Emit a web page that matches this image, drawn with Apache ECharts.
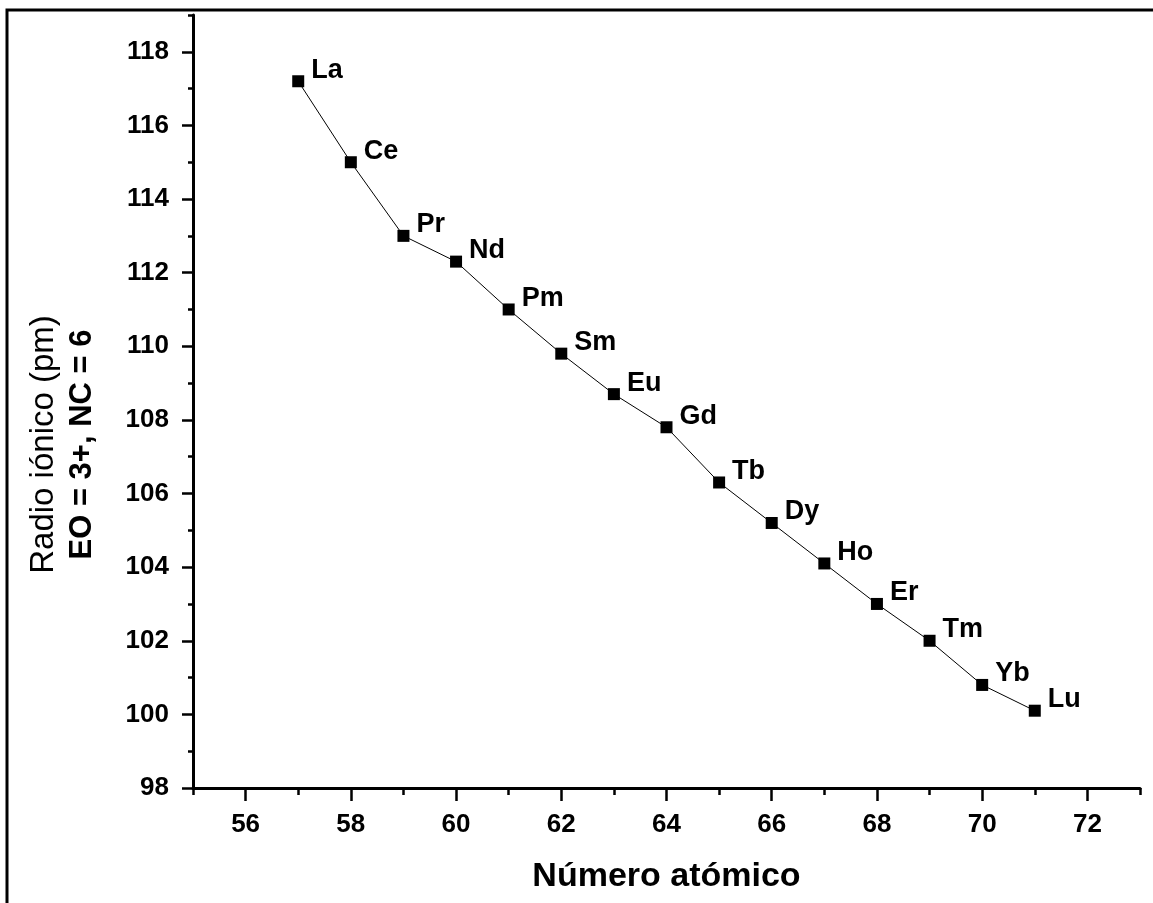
<!DOCTYPE html>
<html>
<head>
<meta charset="utf-8">
<title>Radio iónico de los lantánidos</title>
<script src="https://cdn.jsdelivr.net/npm/echarts@6/dist/echarts.min.js"></script>
<style>
  html, body { margin: 0; padding: 0; background: #fff; }
  #chart { width: 1153px; height: 903px; }
</style>
</head>
<body>
<div id="chart"></div>
<script>
// datos: número atómico, símbolo y radio iónico (pm)
const atomicNumbers = [57, 58, 59, 60, 61, 62, 63, 64, 65, 66, 67, 68, 69, 70, 71]
const elements = ['La', 'Ce', 'Pr', 'Nd', 'Pm', 'Sm', 'Eu', 'Gd', 'Tb', 'Dy', 'Ho', 'Er', 'Tm', 'Yb', 'Lu']
const radii = [117.2, 115.0, 113.0, 112.3, 111.0, 109.8, 108.7, 107.8, 106.3, 105.2, 104.1, 103.0, 102.0, 100.8, 100.1]

// marcas de los ejes
const xMajorTicks = [56, 58, 60, 62, 64, 66, 68, 70, 72]
const xMinorTicks = [55, 57, 59, 61, 63, 65, 67, 69, 71, 73]
const yMajorTicks = [98, 100, 102, 104, 106, 108, 110, 112, 114, 116, 118]
const yMinorTicks = [99, 101, 103, 105, 107, 109, 111, 113, 115, 117, 119]

const font = '"Liberation Sans", Arial, sans-serif'
const myChart = echarts.init(document.getElementById('chart'))

const option = {
  backgroundColor: '#fff',
  animation: false,
  textStyle: { fontFamily: font, color: '#000' },
  grid: { left: 193, right: 13, top: 15, bottom: 115 },
  // marco exterior
  graphic: [{
    type: 'rect',
    shape: { x: 7, y: 10, width: 1160, height: 910 },
    style: { fill: 'none', stroke: '#000', lineWidth: 3 },
    silent: true
  }],
  xAxis: [
    {
      type: 'value',
      position: 'bottom',
      min: 55,
      max: 73,
      name: 'Número atómico',
      nameLocation: 'middle',
      nameGap: 72,
      nameTextStyle: { fontSize: 34, fontWeight: 'bold', fontFamily: font, color: '#000' },
      axisLine: { lineStyle: { color: '#000', width: 3 } },
      axisTick: { customValues: xMajorTicks, length: 13, lineStyle: { color: '#000', width: 2.5 } },
      axisLabel: { customValues: xMajorTicks, margin: 24, fontSize: 26, fontWeight: 'bold', color: '#000', fontFamily: font },
      splitLine: { show: false }
    },
    {
      type: 'value',
      position: 'bottom',
      min: 55,
      max: 73,
      axisLine: { show: false },
      axisTick: { customValues: xMinorTicks, length: 7, lineStyle: { color: '#000', width: 2.5 } },
      axisLabel: { show: false },
      splitLine: { show: false }
    }
  ],
  yAxis: [
    {
      type: 'value',
      position: 'left',
      min: 98,
      max: 119,
      name: '{a|Radio iónico (pm)}\n{b|EO = 3+, NC = 6}',
      nameLocation: 'middle',
      nameRotate: 90,
      nameGap: 92,
      nameTextStyle: {
        padding: [0, 86, 0, 0],
        rich: {
          a: { fontSize: 33, fontFamily: font, color: '#000', lineHeight: 38 },
          b: { fontSize: 31, fontWeight: 'bold', fontFamily: font, color: '#000', lineHeight: 38 }
        }
      },
      axisLine: { lineStyle: { color: '#000', width: 3 } },
      axisTick: { customValues: yMajorTicks, length: 11, lineStyle: { color: '#000', width: 2.5 } },
      axisLabel: { customValues: yMajorTicks, margin: 24, fontSize: 26, fontWeight: 'bold', color: '#000', fontFamily: font },
      splitLine: { show: false }
    },
    {
      type: 'value',
      position: 'left',
      min: 98,
      max: 119,
      axisLine: { show: false },
      axisTick: { customValues: yMinorTicks, length: 5, lineStyle: { color: '#000', width: 2.5 } },
      axisLabel: { show: false },
      splitLine: { show: false }
    }
  ],
  series: [
    {
      type: 'line',
      xAxisIndex: 0,
      yAxisIndex: 0,
      data: atomicNumbers.map((z, i) => ({ value: [z, radii[i]], name: elements[i] })),
      symbol: 'rect',
      symbolSize: 12,
      itemStyle: { color: '#000' },
      lineStyle: { color: '#000', width: 1 },
      label: {
        show: true,
        position: 'right',
        distance: 7,
        offset: [0, -11],
        formatter: '{b}',
        fontSize: 27,
        fontWeight: 'bold',
        fontFamily: font,
        color: '#000'
      }
    }
  ]
}

myChart.setOption(option)
</script>
</body>
</html>
